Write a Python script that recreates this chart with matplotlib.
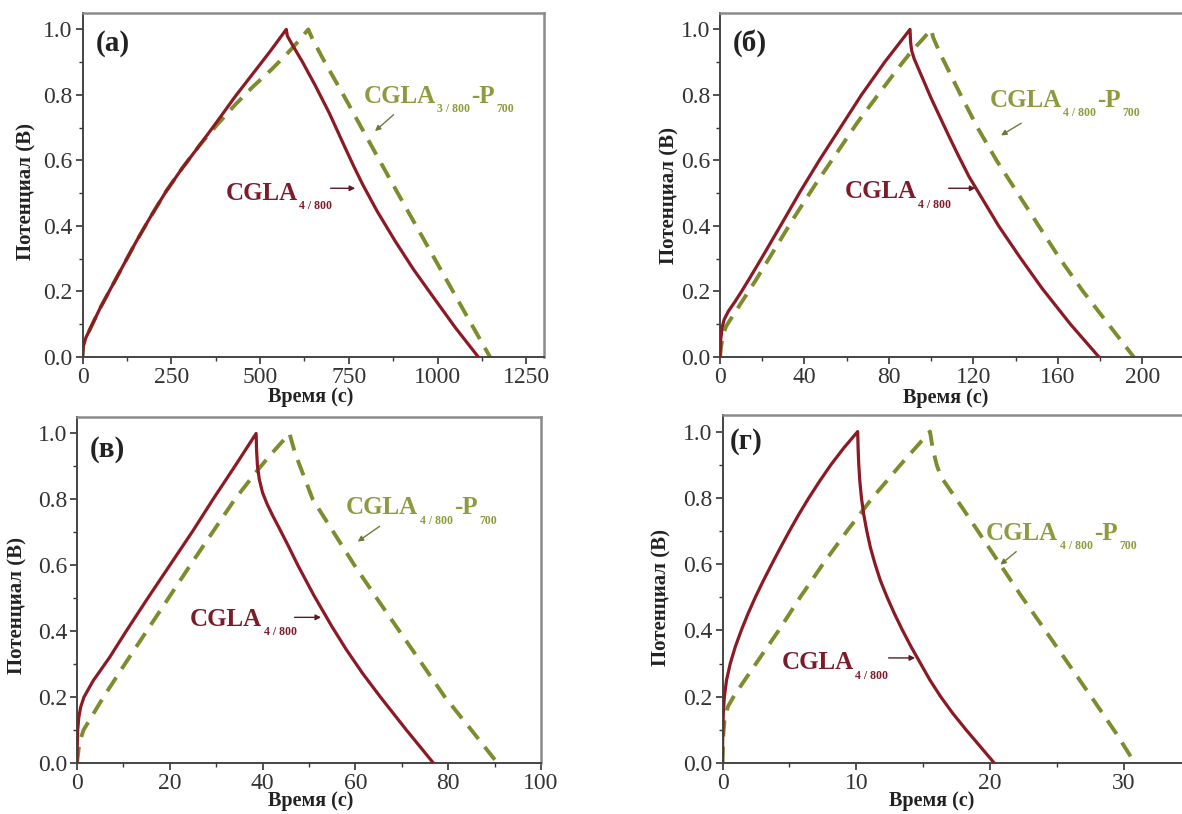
import numpy as np
import matplotlib
matplotlib.use("Agg")
import matplotlib.pyplot as plt
from matplotlib.ticker import MultipleLocator, FormatStrFormatter

plt.rcParams['font.family'] = ['Liberation Serif', 'DejaVu Serif']

# ---- galvanostatic charge/discharge curves ----
# (а)
t_a_red = [0, 2, 10, 30, 50, 75, 110, 150, 190, 235, 280, 331, 380, 430, 480, 530, 574,
           577, 590, 620, 655, 695, 735, 765, 790, 830, 880, 932, 990, 1050, 1115]
v_a_red = [0, 0.035, 0.06, 0.105, 0.15, 0.2, 0.27, 0.35, 0.425, 0.505, 0.575, 0.648, 0.72, 0.795, 0.865, 0.935, 1.0,
           0.98, 0.955, 0.9, 0.83, 0.745, 0.65, 0.58, 0.525, 0.445, 0.355, 0.268, 0.18, 0.09, 0]
t_a_grn = [0, 2, 10, 30, 50, 75, 110, 150, 190, 235, 280, 331, 380, 430, 480, 530, 574, 605, 636,
           648, 680, 740, 801, 870, 940, 1010, 1080, 1148]
v_a_grn = [0, 0.035, 0.06, 0.105, 0.15, 0.2, 0.27, 0.35, 0.425, 0.505, 0.575, 0.648, 0.71, 0.77, 0.825, 0.875, 0.923, 0.96, 1.0,
           0.97, 0.905, 0.79, 0.67, 0.535, 0.4, 0.265, 0.13, 0]

# (б)
t_b_red = [0, 0.3, 1, 2, 4, 7, 10, 14, 20, 29.5, 38, 47, 57, 67, 78, 90,
           90.3, 90.8, 92, 94, 97, 100, 104, 108, 112.5, 118, 125, 132, 142, 152.5, 166, 179.5]
v_b_red = [0, 0.05, 0.09, 0.115, 0.14, 0.168, 0.198, 0.24, 0.305, 0.41, 0.505, 0.6, 0.7, 0.8, 0.9, 1.0,
           0.96, 0.935, 0.91, 0.88, 0.835, 0.79, 0.735, 0.68, 0.62, 0.55, 0.475, 0.4, 0.305, 0.21, 0.1, 0]
t_b_grn = [0, 0.5, 1.5, 3, 6, 10, 17, 26, 35, 45, 54.5, 65, 76, 86, 91, 96, 100,
           101, 104, 109, 114, 122, 131, 141, 151, 161, 172, 184, 196]
v_b_grn = [0, 0.03, 0.07, 0.095, 0.125, 0.165, 0.235, 0.33, 0.425, 0.525, 0.615, 0.715, 0.81, 0.895, 0.935, 0.97, 1.0,
           0.975, 0.93, 0.865, 0.8, 0.7, 0.6, 0.5, 0.4, 0.3, 0.2, 0.1, 0]

# (в)
t_c_red = [0, 0.05, 0.15, 0.4, 0.8, 1.5, 2.5, 3.5, 5, 7, 8.8, 10.6, 15, 20, 25, 29.3, 34, 38.6,
           38.7, 38.9, 39.3, 40, 41, 42.2, 43.5, 45.5, 47.6, 51, 54.9, 58, 61.5, 65.4, 71, 76.8]
v_c_red = [0, 0.05, 0.1, 0.14, 0.17, 0.2, 0.225, 0.25, 0.28, 0.32, 0.36, 0.4, 0.495, 0.6, 0.705, 0.8, 0.9, 1.0,
           0.95, 0.9, 0.86, 0.82, 0.785, 0.75, 0.715, 0.66, 0.6, 0.51, 0.415, 0.345, 0.273, 0.2, 0.1, 0]
t_c_grn = [0, 0.5, 1.4, 5.7, 10.3, 15, 19.7, 24.4, 29.2, 34, 39, 42, 45.8,
           47, 50.8, 55.3, 59.8, 64.6, 69.5, 74.4, 79.3, 85, 90.6]
v_c_grn = [0, 0.06, 0.1, 0.2, 0.3, 0.4, 0.5, 0.6, 0.7, 0.8, 0.89, 0.94, 1.0,
           0.94, 0.8, 0.7, 0.6, 0.5, 0.4, 0.3, 0.2, 0.1, 0]

# (г)
t_d_red = [0, 0.008, 0.025, 0.06, 0.14, 0.3, 0.58, 0.95, 1.4, 1.9, 2.45, 3.05, 3.68,
           4.33, 5.0, 5.7, 6.45, 7.25, 8.1, 9.05, 10.1,
           10.13, 10.18, 10.26, 10.38, 10.55, 10.78, 11.05, 11.4, 11.8, 12.3, 12.85, 13.45, 14.1,
           14.8, 15.5, 16.3, 17.2, 18.2, 19.25, 20.3]
v_d_red = [0, 0.05, 0.1, 0.15, 0.2, 0.25, 0.3, 0.35, 0.4, 0.45, 0.5, 0.55, 0.6,
           0.65, 0.7, 0.75, 0.8, 0.85, 0.9, 0.95, 1.0,
           0.95, 0.9, 0.85, 0.8, 0.75, 0.7, 0.65, 0.6, 0.55, 0.5, 0.45, 0.4, 0.35,
           0.3, 0.25, 0.2, 0.15, 0.1, 0.05, 0]
t_d_grn = [0, 0.05, 0.15, 0.4, 0.9, 2.5, 4.2, 5.8, 7.5, 9.3, 11.2, 13.3, 15.5,
           15.7, 16.0, 16.3, 18, 20.4, 22.3, 24.2, 26, 27.8, 29.4, 30.8]
v_d_grn = [0, 0.08, 0.13, 0.17, 0.205, 0.3, 0.4, 0.5, 0.6, 0.7, 0.8, 0.9, 1.0,
           0.95, 0.9, 0.865, 0.765, 0.62, 0.505, 0.395, 0.29, 0.185, 0.09, 0]

panel_tags = ['(а)', '(б)', '(в)', '(г)']
green_parts = [[('CGLA', 0), ('3 / 800', 1), ('-P', 0), ('700', 1)],
               [('CGLA', 0), ('4 / 800', 1), ('-P', 0), ('700', 1)],
               [('CGLA', 0), ('4 / 800', 1), ('-P', 0), ('700', 1)],
               [('CGLA', 0), ('4 / 800', 1), ('-P', 0), ('700', 1)]]
red_parts = [('CGLA', 0), ('4 / 800', 1)]

RED = '#8b1a24'
RED_TXT = '#7d1b2a'
GREEN = '#7d8c2c'
GREEN_TXT = '#8f9a3c'

W, H = 1182, 814
fig = plt.figure(figsize=(W / 100, H / 100), dpi=100)


def make_axes(left, right, top, bottom):
    return fig.add_axes([left / W, 1 - bottom / H, (right - left) / W, (bottom - top) / H])


def style(ax, xmax, xmajor, ylab_xy, xlab_xy):
    ax.set_xlim(0, xmax)
    ax.set_ylim(0, 1.05)
    ax.xaxis.set_major_locator(MultipleLocator(xmajor))
    ax.xaxis.set_minor_locator(MultipleLocator(xmajor / 2))
    ax.yaxis.set_major_locator(MultipleLocator(0.2))
    ax.yaxis.set_minor_locator(MultipleLocator(0.1))
    ax.yaxis.set_major_formatter(FormatStrFormatter('%.1f'))
    ax.tick_params(which='major', direction='out', length=5, width=1.2,
                   labelsize=17, colors='#333333', pad=2)
    ax.tick_params(which='minor', direction='out', length=3, width=1.0, colors='#333333')
    for s in ['left', 'bottom']:
        ax.spines[s].set_color('#444444')
        ax.spines[s].set_linewidth(1.4)
    for s in ['top', 'right']:
        ax.spines[s].set_color('#8a8a8a')
        ax.spines[s].set_linewidth(1.8)
    ax.set_ylabel('Потенциал (В)', fontsize=15, fontweight='bold', color='#222222')
    ax.set_xlabel('Время (с)', fontsize=14.5, fontweight='bold', color='#222222')
    ax.yaxis.set_label_coords(ylab_xy[0] / W, 1 - ylab_xy[1] / H, transform=fig.transFigure)
    ax.xaxis.set_label_coords(xlab_xy[0] / W, 1 - xlab_xy[1] / H, transform=fig.transFigure)
    ax.yaxis.label.set_va('center')
    ax.xaxis.label.set_va('center')


def sub_label(ax, x, y, parts, color):
    # main text followed by small lowered subscripts, chained piece by piece
    t = ax.text(x, y, parts[0][0], fontsize=18, fontweight='bold', color=color,
                va='center', ha='left')
    prev_sub = False
    for txt, is_sub in parts[1:]:
        if is_sub:
            dy, size = -5.5, 8.5
        else:
            dy, size = 5.5, 18
        if not is_sub and not prev_sub:
            dy = 0
        t = ax.annotate(txt, xy=(1, 0), xycoords=t, xytext=(1.0, dy),
                        textcoords='offset points', fontsize=size, fontweight='bold',
                        color=color, va='bottom', ha='left')
        prev_sub = is_sub


def draw(ax, t_r, v_r, t_g, v_g, tag, tag_xy, gparts, g_txt, g_arr, r_txt, r_arr):
    ax.plot(t_g, v_g, color=GREEN, lw=2.8, dashes=(4.2, 2.6), zorder=2)
    ax.plot(t_r, v_r, color=RED, lw=2.3, zorder=3)
    ax.text(tag_xy[0], tag_xy[1], tag, transform=ax.transAxes, fontsize=21,
            fontweight='bold', va='center', ha='left', color='#222222')
    sub_label(ax, g_txt[0], g_txt[1], gparts, GREEN_TXT)
    ax.annotate('', xy=g_arr[1], xytext=g_arr[0],
                arrowprops=dict(arrowstyle='-|>', color='#6f7a3a', lw=1.0, mutation_scale=8))
    sub_label(ax, r_txt[0], r_txt[1], red_parts, RED_TXT)
    ax.annotate('', xy=r_arr[1], xytext=r_arr[0],
                arrowprops=dict(arrowstyle='-|>', color='#5a1a22', lw=1.0, mutation_scale=8))


ax_a = make_axes(82.5, 544, 13, 357)
style(ax_a, 1300, 250, (26, 192), (311, 397))
draw(ax_a, t_a_red, v_a_red, t_a_grn, v_a_grn, panel_tags[0], (0.029, 0.912),
     green_parts[0], (792, 0.796), ((882, 0.745), (818, 0.684)),
     (404, 0.5), ((691, 0.515), (776, 0.515)))

ax_b = make_axes(720, 1195, 13, 357)
style(ax_b, 225, 40, (669, 195), (946, 398))
draw(ax_b, t_b_red, v_b_red, t_b_grn, v_b_grn, panel_tags[1], (0.027, 0.913),
     green_parts[1], (127.7, 0.784), ((143.8, 0.718), (132, 0.672)),
     (59, 0.505), ((107, 0.515), (122.3, 0.515)))

ax_c = make_axes(77, 541, 417, 763)
style(ax_c, 100, 20, (17, 605), (311, 801))
draw(ax_c, t_c_red, v_c_red, t_c_grn, v_c_grn, panel_tags[2], (0.028, 0.905),
     green_parts[2], (58, 0.774), ((65.7, 0.723), (60, 0.667)),
     (24.4, 0.436), ((46.3, 0.442), (53.2, 0.442)))

ax_d = make_axes(722.5, 1191, 415, 763)
style(ax_d, 35, 10, (661, 597), (932, 801))
draw(ax_d, t_d_red, v_d_red, t_d_grn, v_d_grn, panel_tags[3], (0.016, 0.923),
     green_parts[3], (19.7, 0.693), ((22.1, 0.643), (20.6, 0.593)),
     (4.4, 0.302), ((12.2, 0.317), (14.6, 0.317)))

fig.savefig('out.png', dpi=100)
